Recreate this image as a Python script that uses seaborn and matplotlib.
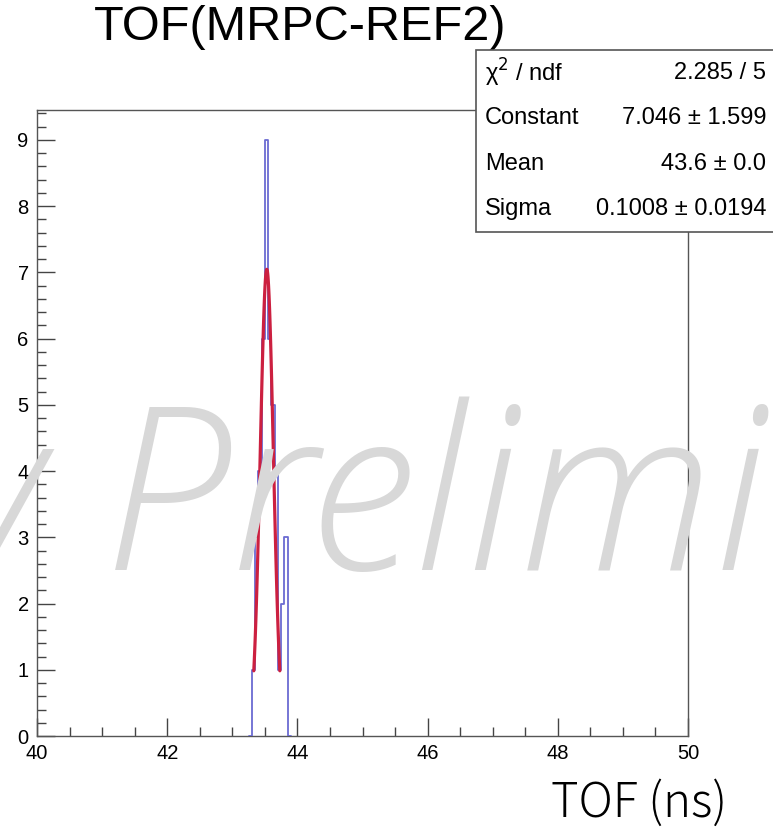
import numpy as np
import pandas as pd
import seaborn as sns
import matplotlib
matplotlib.use("Agg")
import matplotlib.pyplot as plt
from matplotlib.patches import Rectangle
from matplotlib.ticker import MultipleLocator
from matplotlib import font_manager as fm

# ---------------- data ----------------
bin_low = 43.30
bin_width = 0.05
counts = [1, 3, 4, 6, 9, 6, 5, 4, 1, 2, 3]

fit_constant = 7.046
fit_mean = 43.53
fit_sigma = 0.1008
fit_half_range = 0.2

stat_labels = ["\u03c7$^{2}$ / ndf", "Constant", "Mean", "Sigma"]
stat_values = ["2.285 / 5", "7.046 \u00b1 1.599", "43.6 \u00b1 0.0", "0.1008 \u00b1 0.0194"]

title_text = "TOF(MRPC-REF2)"
xlabel_text = "TOF (ns)"
watermark_text = "Very Preliminary"
x_ticks = [40, 42, 44, 46, 48, 50]
y_ticks = [0, 1, 2, 3, 4, 5, 6, 7, 8, 9]

# ---------------- build tables ----------------
n = len(counts)
edges = [round(bin_low + bin_width * k, 4) for k in range(-1, n + 2)]
centers = [(a + b) / 2 for a, b in zip(edges[:-1], edges[1:])]
hist_df = pd.DataFrame({"tof": centers, "w": [0] + counts + [0]})

xs = np.linspace(fit_mean - fit_half_range, fit_mean + fit_half_range, 100)
fit_df = pd.DataFrame({"tof": xs,
                       "f": fit_constant * np.exp(-0.5 * ((xs - fit_mean) / fit_sigma) ** 2)})

# ---------------- figure ----------------
sns.set_style("ticks")
plt.rcParams["font.family"] = ["Liberation Sans", "DejaVu Sans"]
plt.rcParams["text.color"] = "black"

W, H = 773, 830
fig = plt.figure(figsize=(W / 100, H / 100), dpi=100)
L, R, T, B = 37, 688, 110, 736
ax = fig.add_axes([L / W, 1 - B / H, (R - L) / W, (B - T) / H])

sns.histplot(data=hist_df, x="tof", weights="w", bins=edges, element="step",
             fill=False, color="#6b6bd2", linewidth=1.3, ax=ax, zorder=3)
sns.lineplot(data=fit_df, x="tof", y="f", color="#cc2040", linewidth=2.3,
             ax=ax, zorder=4)

ax.set_xlim(40, 50)
ax.set_ylim(0, 9.45)
ax.set_xticks(x_ticks)
ax.set_yticks(y_ticks)
ax.xaxis.set_minor_locator(MultipleLocator(0.5))
ax.yaxis.set_minor_locator(MultipleLocator(0.2))
ax.tick_params(which="both", direction="in", colors="#444444", labelcolor="black",
               top=False, right=False)
ax.tick_params(which="major", length=13, width=1.0, labelsize=14.5, pad=6)
ax.tick_params(which="minor", length=6.5, width=1.0)
for sp in ax.spines.values():
    sp.set_visible(True)
    sp.set_color("#555555")
    sp.set_linewidth(1.0)
ax.set_ylabel("")
ax.set_xlabel(xlabel_text, loc="right", fontsize=34, color="black",
              family=["Noto Sans CJK JP", "DejaVu Sans"], fontweight="light")
ax.xaxis.set_label_coords((727 - L) / (R - L), (B - 803) / (B - T))
ax.xaxis.label.set_va("center")

# title
fig.text(300 / W, 1 - 28 / H, title_text, fontsize=35, ha="center", va="center",
         color="black", family=["Liberation Sans", "DejaVu Sans"])

# stats box
box_top, box_bot = 50, 232
box = Rectangle((476 / W, 1 - box_bot / H), 0.5, (box_bot - box_top) / H,
                transform=fig.transFigure, facecolor="white", edgecolor="#555555",
                linewidth=1.2, zorder=10)
fig.add_artist(box)
row_h = (box_bot - box_top) / len(stat_labels)
for k, (lab, val) in enumerate(zip(stat_labels, stat_values)):
    yy = box_top + row_h * (k + 0.5)
    fig.text(485 / W, 1 - yy / H, lab, fontsize=17, ha="left", va="center", zorder=11)
    fig.text(766 / W, 1 - yy / H, val, fontsize=17, ha="right", va="center", zorder=11)

# watermark
italic_fams = {f.name for f in fm.fontManager.ttflist if f.style == "italic"}
pref = ["Open Sans", "Lato", "Liberation Sans"]
wm_family = [f for f in pref if f in italic_fams]
wm_props = dict(fontsize=164, style="italic", fontweight="light", color="#d8d8d8",
                family=wm_family + ["DejaVu Sans"])
renderer = fig.canvas.get_renderer()
t_full = fig.text(0, 0, watermark_text, **wm_props)
t_tail = fig.text(0, 0, watermark_text.split(" ")[1], **wm_props)
off = t_full.get_window_extent(renderer).width - t_tail.get_window_extent(renderer).width
t_full.remove(); t_tail.remove()
fig.text((104 - off) / W, 1 - 570 / H, watermark_text, ha="left", va="baseline",
         zorder=20, **wm_props)

fig.savefig("out.png", dpi=100)
